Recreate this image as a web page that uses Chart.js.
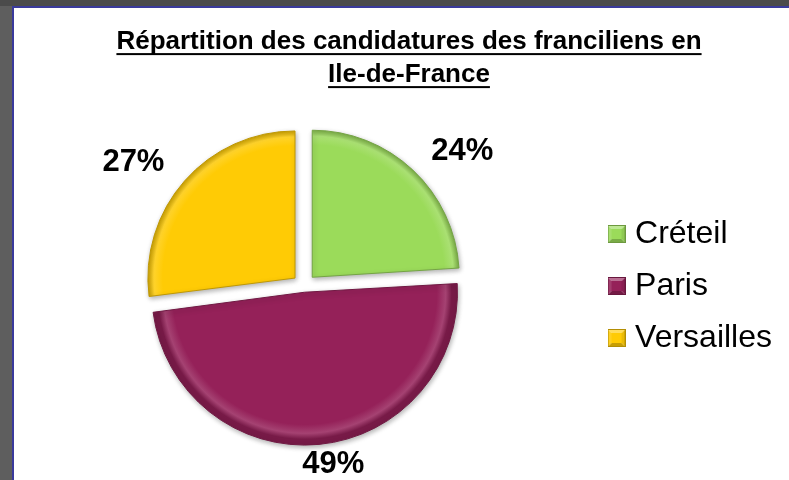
<!DOCTYPE html>
<html lang="fr">
<head>
<meta charset="utf-8">
<title>Répartition des candidatures des franciliens en Ile-de-France</title>
<script src="https://cdn.jsdelivr.net/npm/chart.js@4.4.1/dist/chart.umd.min.js"></script>
<style>
    html, body { margin: 0; padding: 0; }
    body { width: 789px; height: 480px; background: #4b4b4b; position: relative; overflow: hidden; }
    #side { position: absolute; left: 0; top: 6px; width: 12px; bottom: 0; background: #5e5e5e; }
    #frame { position: absolute; left: 12px; top: 6px; right: 0; bottom: 0; background: #fff;
             border-left: 2px solid #3a3a9c; border-top: 2px solid #3a3a9c; }
    #chart-wrapper { position: absolute; left: 0; top: 0; width: 775px; height: 472px; }
</style>
</head>
<body>
<div id="side"></div>
<div id="frame">
    <div id="chart-wrapper">
        <canvas id="repartition-chart" width="775" height="472"></canvas>
    </div>
</div>
<script>
const chartTitle = ["Répartition des candidatures des franciliens en", "Ile-de-France"];
const categories = ["Créteil", "Paris", "Versailles"];
const shares = [24, 49, 27];
const sliceColors = ["#9BDB5A", "#952159", "#FFCB05"];

const fontFamily = "'Liberation Sans', Arial, sans-serif";
const pieRadius = 147;
const titleFontSize = 26;
const titleLineHeight = 33;
const titlePadding = {top: 17.5, bottom: 2.5};

// lighten (amount > 0) or darken (amount < 0) a hex colour
function shade(hex, amount){
    const n = parseInt(hex.slice(1), 16);
    const target = amount < 0 ? 0 : 255;
    const p = Math.abs(amount);
    const mix = (v) => Math.round(v + (target - v) * p);
    return `rgb(${mix(n >> 16)},${mix((n >> 8) & 255)},${mix(n & 255)})`;
};

// small bevelled square used as legend marker
function makeMarker(color){
    const size = 18;
    const m = size / 2;
    const canvas = document.createElement("canvas");
    canvas.width = size;
    canvas.height = size;
    const ctx = canvas.getContext("2d");
    const faces = [
        [[0, 0], [size, 0], shade(color, 0.35)],
        [[0, 0], [0, size], shade(color, 0.12)],
        [[size, 0], [size, size], shade(color, -0.08)],
        [[0, size], [size, size], shade(color, -0.22)],
    ];
    faces.forEach(([a, b, fill]) => {
        ctx.beginPath();
        ctx.moveTo(a[0], a[1]);
        ctx.lineTo(b[0], b[1]);
        ctx.lineTo(m, m);
        ctx.closePath();
        ctx.fillStyle = fill;
        ctx.fill();
    });
    ctx.fillStyle = color;
    ctx.fillRect(4, 4, size - 8, size - 8);
    ctx.strokeStyle = shade(color, -0.3);
    ctx.lineWidth = 1;
    ctx.strokeRect(0.5, 0.5, size - 1, size - 1);
    return canvas;
};
const markers = sliceColors.map(makeMarker);

// radial gradient giving each slice a slight bevelled rim
function sliceFill(context){
    const color = sliceColors[context.dataIndex];
    const chart = context.chart;
    const area = chart.chartArea;
    if (!area){
        return color;
    };
    const cx = (area.left + area.right) / 2;
    const cy = (area.top + area.bottom) / 2;
    const gradient = chart.ctx.createRadialGradient(cx, cy, 0, cx, cy, pieRadius);
    gradient.addColorStop(0, color);
    gradient.addColorStop(0.9, color);
    gradient.addColorStop(0.96, shade(color, 0.15));
    gradient.addColorStop(1, shade(color, -0.2));
    return gradient;
};

// same displacement chart.js applies to an exploded arc
function arcShift(arc){
    const offset = (arc.options.offset || 0) / 4;
    const fix = 1 - Math.sin(Math.min(Math.PI, arc.circumference || 0));
    return offset * (1 + fix);
};

const sliceShadowAndLabels = {
    id: "sliceShadowAndLabels",
    beforeDatasetsDraw(chart){
        const ctx = chart.ctx;
        ctx.save();
        ctx.shadowColor = "rgba(0,0,0,0.3)";
        ctx.shadowBlur = 5;
        ctx.shadowOffsetX = 1;
        ctx.shadowOffsetY = 2;
    },
    afterDatasetsDraw(chart){
        const ctx = chart.ctx;
        ctx.restore();

        const meta = chart.getDatasetMeta(0);
        const total = shares.reduce((a, b) => a + b, 0);
        ctx.save();
        ctx.font = `bold 31px ${fontFamily}`;
        ctx.fillStyle = "#000";
        ctx.textAlign = "center";
        ctx.textBaseline = "middle";
        meta.data.forEach((arc, i) => {
            const {x, y, startAngle, endAngle, outerRadius} = arc.getProps(["x", "y", "startAngle", "endAngle", "outerRadius"], true);
            const mid = (startAngle + endAngle) / 2;
            const ux = Math.cos(mid);
            const uy = Math.sin(mid);
            const shift = arcShift(arc);
            const text = Math.round(shares[i] / total * 100) + "%";
            const w = ctx.measureText(text).width;
            const h = 30;
            // push the label box outside the slice, corner towards the arc
            const sx = Math.max(-1, Math.min(1, 4 * ux));
            const sy = Math.max(-1, Math.min(1, 2 * uy));
            const lx = x + ux * shift + ux * (outerRadius + 27) + sx * w / 2;
            const ly = y + uy * shift + uy * (outerRadius + 5) + sy * h / 2;
            ctx.fillText(text, lx, ly);
        });
        ctx.restore();
    }
};

const titleUnderline = {
    id: "titleUnderline",
    afterLayout(chart){
        // title sits a bit right of the canvas centre in the slide
        chart.titleBlock.left += 22;
    },
    afterDraw(chart){
        const block = chart.titleBlock;
        const ctx = chart.ctx;
        ctx.save();
        ctx.font = `bold ${titleFontSize}px ${fontFamily}`;
        ctx.fillStyle = "#000";
        const cx = (block.left + block.right) / 2;
        let cy = block.top + titlePadding.top + titleLineHeight / 2;
        chartTitle.forEach(line => {
            const w = ctx.measureText(line).width;
            ctx.fillRect(cx - w / 2, cy + titleFontSize * 0.35 + 2, w, 2);
            cy += titleLineHeight;
        });
        ctx.restore();
    }
};

const canvas = document.querySelector("#repartition-chart");

const pieConfig = {
    type: "pie",
    data: {
        labels: categories,
        datasets: [{
            data: shares,
            backgroundColor: sliceFill,
            borderColor: sliceColors.map(c => shade(c, -0.25)),
            borderWidth: 1,
            offset: [48, 25, 48],
            radius: pieRadius,
        }]
    },
    options: {
        responsive: false,
        animation: false,
        layout: {
            padding: {left: 0, right: 7, top: 0, bottom: 2}
        },
        plugins: {
            title: {
                display: true,
                text: chartTitle,
                color: "#000",
                font: {
                    family: fontFamily,
                    size: titleFontSize,
                    weight: "bold",
                    lineHeight: titleLineHeight / titleFontSize,
                },
                padding: titlePadding,
            },
            legend: {
                display: true,
                position: "right",
                fullSize: false,
                labels: {
                    usePointStyle: true,
                    boxWidth: 5,
                    color: "#000",
                    padding: 20,
                    font: {
                        family: fontFamily,
                        size: 32,
                    },
                    generateLabels: function(chart){
                        const items = Chart.overrides.pie.plugins.legend.labels.generateLabels(chart);
                        items.forEach((item, i) => {
                            item.pointStyle = markers[i];
                        });
                        return items;
                    }
                }
            },
            tooltip: {
                enabled: false
            }
        }
    },
    plugins: [sliceShadowAndLabels, titleUnderline]
};

const repartitionChart = new Chart(canvas, pieConfig);
</script>
</body>
</html>
